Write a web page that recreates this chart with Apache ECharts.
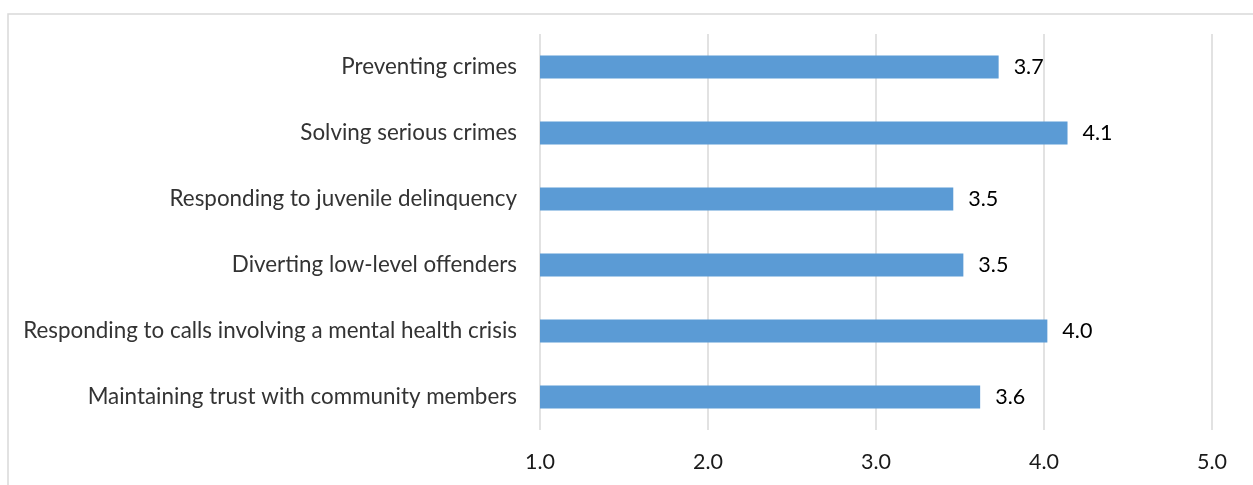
<!DOCTYPE html>
<html>
<head>
<meta charset="utf-8">
<script src="https://cdn.jsdelivr.net/npm/echarts@6/dist/echarts.min.js"></script>
<style>
  html, body { margin: 0; padding: 0; background: #fff; }
  #chart { width: 1253px; height: 485px; }
</style>
</head>
<body>
<div id="chart"></div>
<script>
// 类别（从上到下）
const categories = [
  "Preventing crimes",
  "Solving serious crimes",
  "Responding to juvenile delinquency",
  "Diverting low-level offenders",
  "Responding to calls involving a mental health crisis",
  "Maintaining trust with community members"
];
// 平均得分
const scores = [3.73, 4.14, 3.46, 3.52, 4.02, 3.62];
// x轴刻度
const tickMin = 1;
const tickMax = 5;

const chart = echarts.init(document.getElementById("chart"));
chart.setOption({
  animation: false,
  textStyle: { fontFamily: "Lato" },
  graphic: [
    {
      type: "rect",
      shape: { x: 8, y: 14, width: 1400, height: 600 },
      style: { fill: "none", stroke: "#d9d9d9", lineWidth: 1.5 },
      silent: true
    }
  ],
  grid: { left: 540, right: 41, top: 34, bottom: 55 },
  xAxis: {
    type: "value",
    min: tickMin,
    max: tickMax,
    interval: 1,
    axisLine: { show: false },
    axisTick: { show: false },
    axisLabel: {
      color: "#1a1a1a",
      fontSize: 21.5,
      margin: 21,
      formatter: (v) => v.toFixed(1)
    },
    splitLine: { lineStyle: { color: "#d9d9d9", width: 1.5 } }
  },
  yAxis: {
    type: "category",
    inverse: true,
    data: categories,
    axisLine: { show: false },
    axisTick: { show: false },
    axisLabel: { color: "#333", fontSize: 22.4, margin: 23 }
  },
  series: [
    {
      type: "bar",
      data: scores,
      barWidth: "35%",
      itemStyle: { color: "#5B9BD5" },
      label: {
        show: true,
        position: "right",
        distance: 15,
        color: "#000",
        fontSize: 21.5,
        formatter: (p) => p.value.toFixed(1)
      }
    }
  ]
});
</script>
</body>
</html>
